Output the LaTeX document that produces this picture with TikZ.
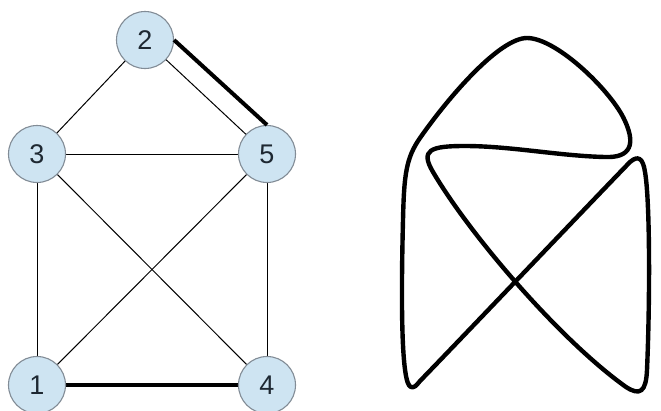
\documentclass[tikz,border=0pt]{standalone}
\usepackage{fontspec}
\setmainfont{Liberation Sans}
\usepackage{tikz}
\usetikzlibrary{arrows.meta,positioning,calc}
\usepackage{xcolor}
\definecolor{vfill}{RGB}{206,228,242}
\definecolor{vline}{RGB}{130,140,150}
\definecolor{vtext}{RGB}{30,40,50}

\begin{document}
\begin{tikzpicture}[x=1pt,y=-1pt,>=Latex,
  vertex/.style={circle,draw=vline,line width=1.1pt,fill=vfill,minimum size=57pt,
    inner sep=0pt,text=vtext,font=\fontsize{27}{30}\selectfont},
  edge/.style={line width=1pt},
  heavy/.style={line width=4pt},
  knot/.style={line width=4.4pt,line join=round}]
\useasboundingbox (0,0) rectangle (661,410);

% graph edges first, vertices on top
\coordinate (c2) at (145,40);
\coordinate (c3) at (37,154);
\coordinate (c5) at (267,154);
\coordinate (c1) at (37,385);
\coordinate (c4) at (267,385);
\foreach \a/\b in {2/3,2/5,3/5,3/1,3/4,5/1,5/4} {\draw[edge] (c\a) -- (c\b);}
\draw[heavy] (c1) -- (c4);

\node[vertex] (v2) at (c2) {2};
\node[vertex] (v3) at (c3) {3};
\node[vertex] (v5) at (c5) {5};
\node[vertex] (v1) at (c1) {1};
\node[vertex] (v4) at (c4) {4};
\draw[heavy] (v2.east) -- (v5.north);

% the closed curve
\draw[knot] (411,387)
  .. controls (401,385) and (401,300) .. (403,220)
  .. controls (404,175) and (406,158) .. (420,138)
  .. controls (450,95) and (500,38) .. (527,38)
  .. controls (555,38) and (605,85) .. (622,115)
  .. controls (638,145) and (630,158) .. (605,157)
  .. controls (560,156) and (510,146) .. (465,146)
  .. controls (430,146) and (420,150) .. (433,172)
  .. controls (470,235) and (560,340) .. (626,387)
  .. controls (640,396) and (646,392) .. (647,370)
  .. controls (650,300) and (650,200) .. (645,172)
  .. controls (643,158) and (638,155) .. (630,162)
  .. controls (595,198) and (455,345) .. (420,381)
  .. controls (416,386) and (414,388) .. cycle;
\end{tikzpicture}
\end{document}
